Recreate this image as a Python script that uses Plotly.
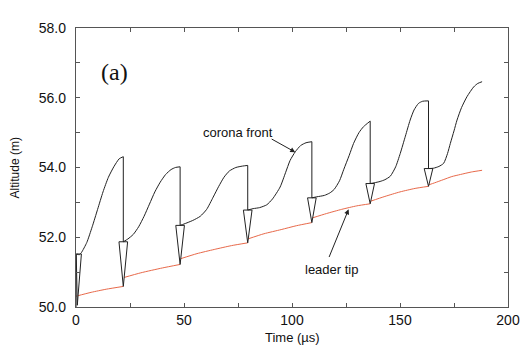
import plotly.graph_objects as go

# ---- data ----
# Corona front: one list of times / altitudes per growth segment
corona_t = [
    [0.3, 1.5, 2.5, 5, 7.5, 10, 12.5, 15, 17.5, 20, 21.9],
    [21.9, 24, 26.5, 29, 31.5, 34, 36.5, 39, 41.5, 44, 46, 48.2],
    [48.2, 50, 54, 57.5, 60.5, 63.5, 66, 68.5, 71, 74, 77, 79.5],
    [79.5, 82, 85, 88.3, 91, 94.5, 97, 99.1, 101.5, 104, 106.5, 109.2],
    [109.2, 111.5, 115, 117.5, 119.5, 122, 124, 126.5, 128.5, 131, 133.1, 136.2],
    [136.2, 138, 140.8, 143, 145.5, 148, 150.1, 152.5, 154.7, 156.5, 158.6, 160.5, 163.2],
    [163.2, 165.5, 168, 170.2, 172, 173.3, 175, 176.4, 178.5, 181, 184.1, 186, 188],
]
corona_alt = [
    [51.52, 51.50, 51.56, 51.85, 52.3, 52.8, 53.3, 53.72, 54.02, 54.25, 54.31],
    [51.87, 51.95, 52.08, 52.3, 52.6, 52.95, 53.3, 53.58, 53.8, 53.94, 54.0, 54.02],
    [52.34, 52.38, 52.48, 52.6, 52.8, 53.15, 53.45, 53.72, 53.9, 54.0, 54.04, 54.06],
    [52.78, 52.82, 52.85, 52.93, 53.1, 53.44, 53.85, 54.2, 54.45, 54.63, 54.71, 54.74],
    [53.13, 53.16, 53.2, 53.27, 53.37, 53.62, 53.95, 54.35, 54.69, 55.0, 55.17, 55.33],
    [53.54, 53.56, 53.6, 53.65, 53.75, 54.02, 54.4, 54.9, 55.36, 55.65, 55.84, 55.9, 55.91],
    [53.97, 53.98, 54.03, 54.12, 54.4, 54.69, 55.05, 55.36, 55.72, 56.03, 56.31, 56.41, 56.46],
]

# Leader tip: one list per segment between steps
leader_t = [
    [0, 7, 14, 21.9],
    [21.9, 30, 40, 48.2],
    [48.2, 56, 64, 72, 79.5],
    [79.5, 87, 95, 102, 109.2],
    [109.2, 116, 123, 130, 136.2],
    [136.2, 143, 150, 157, 163.2],
    [163.2, 166, 170, 174, 178, 183, 188],
]
leader_alt = [
    [50.31, 50.42, 50.51, 50.59],
    [50.84, 50.98, 51.12, 51.22],
    [51.38, 51.53, 51.65, 51.76, 51.84],
    [51.95, 52.1, 52.22, 52.33, 52.42],
    [52.55, 52.68, 52.8, 52.9, 52.96],
    [53.03, 53.17, 53.3, 53.4, 53.46],
    [53.50, 53.56, 53.65, 53.74, 53.8, 53.87, 53.92],
]

# Step markers (downward triangles): time, top altitude, tip altitude
step_t = [1.3, 21.9, 48.2, 79.5, 109.2, 136.2, 163.2]
step_top = [51.52, 51.87, 52.34, 52.78, 53.13, 53.54, 53.97]
step_tip = [50.05, 50.59, 51.22, 51.84, 52.42, 52.96, 53.46]

x_ticks = [0, 50, 100, 150, 200]
y_ticks = [50.0, 52.0, 54.0, 56.0, 58.0]

# ---- figure ----
fig = go.Figure()

# leader tip (red)
for t, a in zip(leader_t, leader_alt):
    fig.add_trace(go.Scatter(x=t, y=a, mode="lines", line=dict(color="#e8694a", width=1, shape="spline", smoothing=0.6),
                             hoverinfo="skip", showlegend=False))

# triangles
for i, (t, top, tip) in enumerate(zip(step_t, step_top, step_tip)):
    hw = 1.2 if i == 0 else 2.0
    fig.add_trace(go.Scatter(x=[t - hw, t + hw, t if i else 0.6, t - hw], y=[top, top, tip, top],
                             mode="lines", fill="toself", fillcolor="white",
                             line=dict(color="#222", width=1), hoverinfo="skip", showlegend=False))

# vertical drops of the corona front
drop_x, drop_y = [0, 0, None], [50.0, corona_alt[0][0], None]
for k in range(len(corona_t) - 1):
    drop_x += [corona_t[k][-1], corona_t[k][-1], None]
    drop_y += [corona_alt[k][-1], corona_alt[k + 1][0], None]
fig.add_trace(go.Scatter(x=drop_x, y=drop_y, mode="lines", line=dict(color="#222", width=1),
                         hoverinfo="skip", showlegend=False))

# corona front segments
for t, a in zip(corona_t, corona_alt):
    fig.add_trace(go.Scatter(x=t, y=a, mode="lines", line=dict(color="#222", width=1, shape="spline", smoothing=0.6),
                             hoverinfo="skip", showlegend=False))

font_sans = "Liberation Sans, Arial, sans-serif"
axis_common = dict(
    showline=True, linecolor="#555", linewidth=1.3, mirror="ticks",
    ticks="inside", ticklen=4, tickwidth=1, tickcolor="#555",
    showgrid=False, zeroline=False, automargin=False,
    tickfont=dict(family=font_sans, size=14, color="#111"),
)
fig.update_xaxes(range=[0, 200], tickvals=x_ticks, ticklabelstandoff=0,
                 minor=dict(ticks="inside", ticklen=4, tickcolor="#555", dtick=25, tick0=0, showgrid=False),
                 **axis_common)
fig.update_yaxes(range=[50, 58], tickvals=y_ticks, tickformat=".1f", ticklabelstandoff=6,
                 minor=dict(ticks="inside", ticklen=4, tickcolor="#555", dtick=1, tick0=50, showgrid=False),
                 **axis_common)

fig.add_annotation(x=75.1, y=54.99, text="corona front", showarrow=False,
                   font=dict(family=font_sans, size=13, color="#111"))
fig.add_annotation(x=101.5, y=54.44, ax=89.9, ay=54.84, axref="x", ayref="y", text="",
                   showarrow=True, arrowhead=2, arrowsize=1, arrowwidth=1, arrowcolor="#222")
fig.add_annotation(x=118.1, y=51.08, text="leader tip", showarrow=False,
                   font=dict(family=font_sans, size=13, color="#111"))
fig.add_annotation(x=126.2, y=52.80, ax=116.9, ay=51.39, axref="x", ayref="y", text="",
                   showarrow=True, arrowhead=2, arrowsize=1, arrowwidth=1, arrowcolor="#222")
fig.add_annotation(x=17.6, y=56.74, text="(a)", showarrow=False,
                   font=dict(family="Liberation Serif, Times New Roman, serif", size=24, color="#111"))

fig.add_annotation(xref="paper", yref="paper", x=0.5, y=-0.1076, xanchor="center", yanchor="middle",
                   text="Time (µs)", showarrow=False,
                   font=dict(family=font_sans, size=13, color="#111"))
fig.add_annotation(xref="paper", yref="paper", x=-0.1413, y=0.5, xanchor="center", yanchor="middle",
                   text="Altitude (m)", textangle=-90,
                   showarrow=False, font=dict(family=font_sans, size=12, color="#111"))

fig.update_layout(width=521, height=350, margin=dict(l=76, r=13, t=28, b=43),
                  plot_bgcolor="white", paper_bgcolor="white", showlegend=False)

fig.write_html("out.html")
